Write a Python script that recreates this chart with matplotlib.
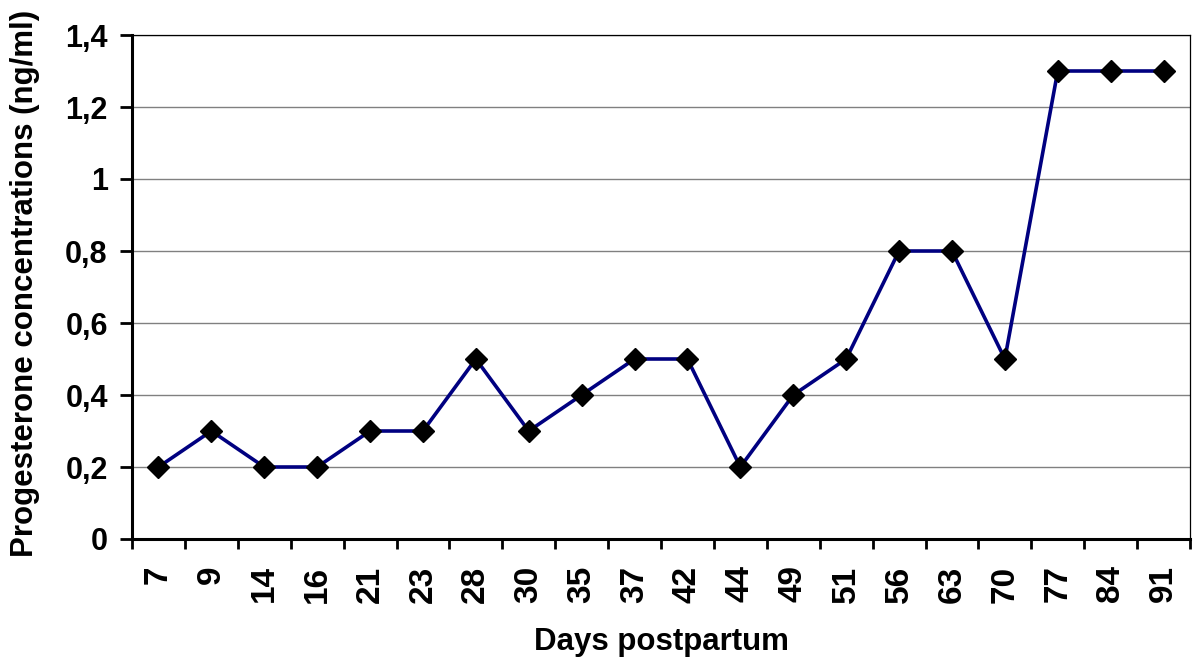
import matplotlib
matplotlib.use("Agg")
import matplotlib.pyplot as plt
import numpy as np

days = ["7", "9", "14", "16", "21", "23", "28", "30", "35", "37",
        "42", "44", "49", "51", "56", "63", "70", "77", "84", "91"]
progesterone = [0.2, 0.3, 0.2, 0.2, 0.3, 0.3, 0.5, 0.3, 0.4, 0.5,
                0.5, 0.2, 0.4, 0.5, 0.8, 0.8, 0.5, 1.3, 1.3, 1.3]
y_ticks = [0, 0.2, 0.4, 0.6, 0.8, 1.0, 1.2, 1.4]
y_tick_labels = ["0", "0,2", "0,4", "0,6", "0,8", "1", "1,2", "1,4"]

plt.rcParams['font.family'] = ['Liberation Sans', 'DejaVu Sans']
plt.rcParams['font.weight'] = 'bold'

fig = plt.figure(figsize=(12.04, 6.66), dpi=100)
ax = fig.add_axes([132/1204, 1-539/666, (1190-132)/1204, (539-35)/666])

x = np.arange(len(days))
ax.plot(x, progesterone, color='#000080', lw=2.6, marker='D', ms=11,
        mfc='black', mec='black', zorder=3, clip_on=False)

ax.set_xlim(-0.5, len(days) - 0.5)
ax.set_ylim(0, 1.4)

# y axis
ax.set_yticks(y_ticks)
ax.set_yticklabels(y_tick_labels, fontsize=22, fontweight='bold')
ax.tick_params(axis='y', direction='out', length=8.4, width=2, pad=9)
ax.yaxis.grid(True, color='#808080', lw=1.0)
ax.set_axisbelow(True)

# x axis: tick marks between categories, labels at centres
ax.set_xticks(np.arange(-0.5, len(days), 1.0))
ax.set_xticklabels([])
ax.tick_params(axis='x', which='major', direction='out', length=7, width=2)
ax.set_xticks(x, minor=True)
ax.set_xticklabels(days, minor=True, rotation=90, fontsize=24, fontweight='bold')
ax.tick_params(axis='x', which='minor', length=0, pad=19)

for side in ['left', 'bottom']:
    ax.spines[side].set_linewidth(2.2)
for side in ['top', 'right']:
    ax.spines[side].set_linewidth(0.9)

ax.set_xlabel("Days postpartum", fontsize=22.5, fontweight='bold', va='center')
ax.xaxis.set_label_coords(0.5, (539-642)/504)
ax.set_ylabel("Progesterone concentrations (ng/ml)", fontsize=22.5,
              fontweight='bold', va='center', ha='center')
ax.yaxis.set_label_coords((25-132)/1058, (539-283)/504)

fig.savefig("out.png", dpi=100)
